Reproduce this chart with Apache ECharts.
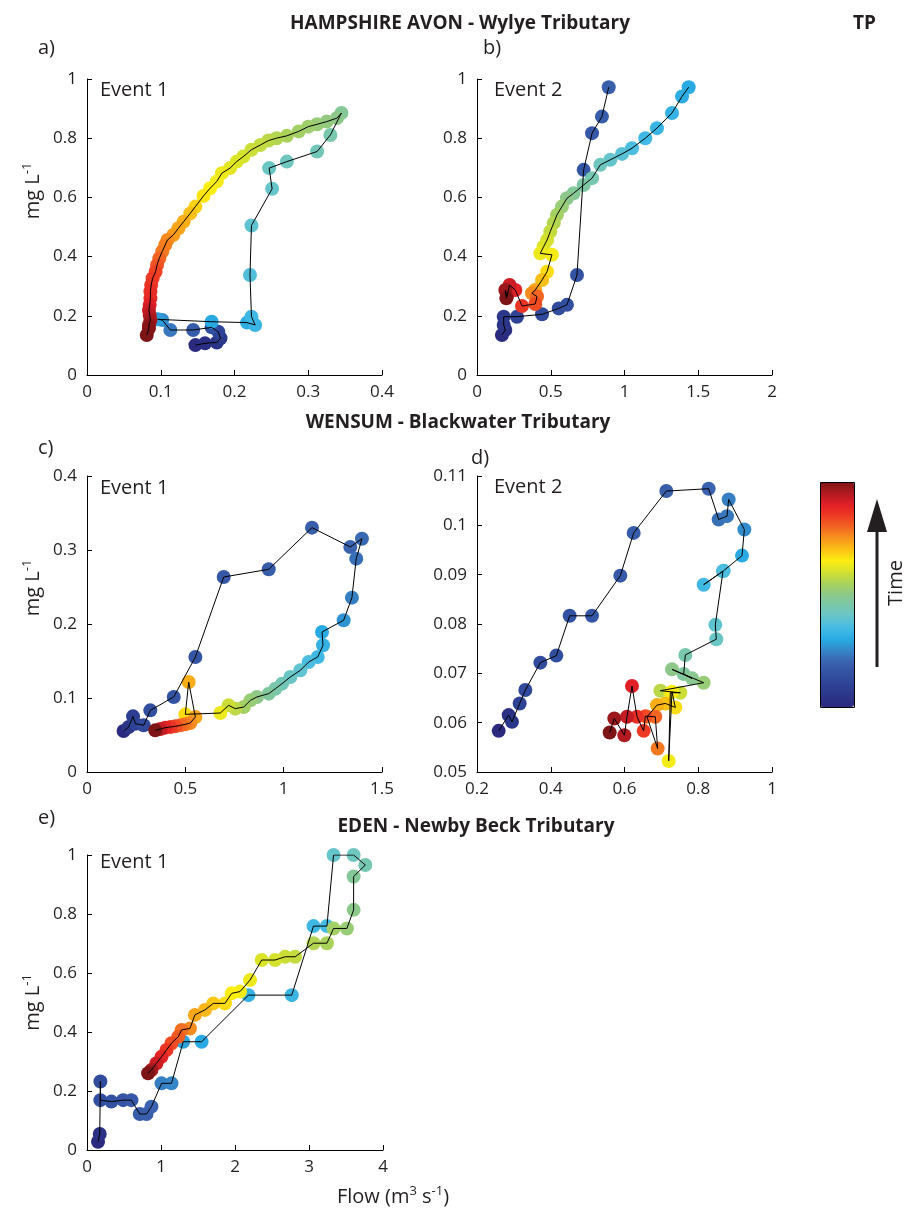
<!DOCTYPE html>
<html><head><meta charset="utf-8">
<script src="https://cdn.jsdelivr.net/npm/echarts@6/dist/echarts.min.js"></script>
<style>html,body{margin:0;padding:0;background:#fff}#c{width:912px;height:1214px}</style>
</head><body><div id="c"></div>
<script>
const aFlow = [0.147,0.160,0.176,0.181,0.178,0.169,0.144,0.113,0.102,0.096,0.169,0.217,0.228,0.223,0.221,0.223,0.251,0.247,0.271,0.312,0.330,0.345,0.339,0.325,0.312,0.300,0.287,0.271,0.257,0.246,0.235,0.223,0.212,0.203,0.194,0.183,0.176,0.167,0.158,0.147,0.140,0.131,0.124,0.117,0.109,0.106,0.102,0.098,0.095,0.093,0.089,0.087,0.086,0.086,0.085,0.084,0.085,0.086,0.084,0.084,0.081];
const aConc = [0.101,0.107,0.110,0.124,0.146,0.161,0.152,0.152,0.186,0.188,0.180,0.177,0.169,0.197,0.338,0.505,0.629,0.699,0.721,0.755,0.811,0.885,0.868,0.856,0.847,0.839,0.823,0.808,0.800,0.792,0.777,0.761,0.738,0.721,0.699,0.682,0.654,0.631,0.605,0.569,0.546,0.518,0.496,0.473,0.456,0.439,0.417,0.394,0.372,0.349,0.327,0.304,0.282,0.259,0.237,0.220,0.203,0.186,0.169,0.158,0.135];
const aTime = [0,0.02,0.04,0.06,0.10,0.14,0.18,0.23,0.26,0.28,0.30,0.31,0.33,0.34,0.37,0.39,0.40,0.41,0.42,0.43,0.45,0.48,0.50,0.51,0.52,0.53,0.54,0.55,0.56,0.57,0.58,0.59,0.60,0.61,0.62,0.63,0.64,0.65,0.66,0.68,0.70,0.72,0.73,0.74,0.76,0.77,0.78,0.80,0.82,0.84,0.85,0.86,0.87,0.88,0.90,0.92,0.94,0.96,0.98,0.99,1.0];

const bFlow = [0.169,0.192,0.181,0.181,0.271,0.441,0.554,0.610,0.678,0.723,0.780,0.847,0.893,null,1.435,1.390,1.322,1.220,1.141,1.051,0.983,0.904,0.836,0.780,0.723,0.655,0.610,0.576,0.542,0.520,0.497,0.475,0.452,0.429,0.508,0.475,0.441,0.395,0.373,0.407,0.395,0.305,0.260,0.221,0.203,0.192,0.199];
const bConc = [0.135,0.152,0.169,0.197,0.197,0.205,0.225,0.237,0.338,0.693,0.817,0.873,0.972,null,0.972,0.941,0.885,0.834,0.800,0.766,0.747,0.727,0.710,0.665,0.642,0.614,0.597,0.569,0.541,0.513,0.485,0.456,0.434,0.411,0.406,0.349,0.321,0.287,0.276,0.265,0.240,0.233,0.287,0.304,0.265,0.287,0.259];
const bTime = [0,0.02,0.04,0.06,0.10,0.12,0.13,0.14,0.15,0.16,0.17,0.18,0.19,null,0.30,0.31,0.32,0.33,0.34,0.36,0.38,0.40,0.42,0.44,0.46,0.48,0.50,0.52,0.54,0.56,0.58,0.60,0.61,0.63,0.64,0.67,0.70,0.73,0.76,0.80,0.83,0.86,0.89,0.92,0.95,0.97,1.0];

const cFlow = [0.186,0.212,0.234,0.246,0.288,0.322,0.441,0.551,0.695,0.924,1.144,1.339,1.398,1.369,1.347,1.305,1.195,1.200,1.173,1.127,1.085,1.034,0.992,0.958,0.924,0.864,0.831,0.797,0.754,0.720,0.678,0.500,0.517,0.551,0.525,0.500,0.475,0.449,0.424,0.398,0.373,0.347];
const cConc = [0.0554,0.0608,0.0752,0.0653,0.0631,0.0833,0.1014,0.1554,0.2635,0.2739,0.3302,0.3041,0.3153,0.2883,0.2356,0.2050,0.1892,0.1712,0.1554,0.1486,0.1374,0.1284,0.1194,0.1126,0.1059,0.1014,0.0968,0.0878,0.0856,0.0901,0.0797,0.0779,0.1216,0.0743,0.0662,0.0644,0.0631,0.0617,0.0608,0.0599,0.0581,0.0563];
const cTime = [0,0.05,0.08,0.10,0.12,0.14,0.15,0.16,0.17,0.18,0.19,0.20,0.21,0.22,0.24,0.27,0.30,0.32,0.34,0.36,0.39,0.41,0.43,0.45,0.47,0.50,0.52,0.54,0.57,0.59,0.63,0.67,0.72,0.73,0.76,0.78,0.80,0.83,0.86,0.89,0.93,1.0];

const dFlow = [0.2588,0.2859,0.2949,0.3157,0.3311,0.3718,0.4151,0.4513,0.5119,0.5887,0.6249,0.7134,0.8282,0.8554,0.8780,0.8825,0.9250,0.9187,0.8689,0.8147,0.8671,0.8463,0.8490,0.7650,0.7605,0.7831,0.7288,0.8147,0.6972,0.7514,0.7243,0.7198,0.7288,0.7378,0.7107,0.6881,0.6610,0.6899,0.6836,0.6565,0.6520,0.6339,0.6203,0.6068,0.5996,0.5724,0.5598];
const dConc = [0.05834,0.06153,0.06017,0.0639,0.06661,0.07217,0.07359,0.08166,0.08166,0.0898,0.09847,0.10695,0.10742,0.10119,0.10186,0.10525,0.09915,0.09386,0.09081,0.08797,0.09068,0.07983,0.07692,0.07373,0.06986,0.06898,0.07081,0.0681,0.06647,0.06607,0.06607,0.05224,0.06627,0.06308,0.0639,0.06356,0.06119,0.05475,0.06119,0.06132,0.05834,0.06119,0.06742,0.06119,0.05746,0.06085,0.058];
const dTime = [0,0.03,0.05,0.10,0.12,0.13,0.14,0.15,0.16,0.17,0.18,0.19,0.20,0.22,0.23,0.24,0.26,0.30,0.32,0.34,0.36,0.39,0.41,0.45,0.47,0.49,0.50,0.52,0.57,0.59,0.62,0.64,0.65,0.67,0.70,0.72,0.76,0.78,0.80,0.83,0.85,0.87,0.90,0.93,0.95,0.97,1.0];

const eFlow = [0.149,0.172,0.181,0.181,0.330,0.488,0.600,0.713,0.804,0.871,1.007,1.142,1.300,1.549,2.181,2.767,3.061,3.242,3.332,3.603,3.761,3.603,3.603,3.512,3.332,3.242,3.061,2.813,2.677,2.542,2.361,2.203,2.068,1.955,1.865,1.707,1.594,1.458,1.391,1.278,1.233,1.142,1.074,1.007,0.939,0.871,0.826];
const eConc = [0.028,0.054,0.232,0.169,0.164,0.169,0.169,0.122,0.122,0.147,0.226,0.226,0.367,0.367,0.525,0.525,0.759,0.759,1.0,1.0,0.966,0.927,0.814,0.751,0.751,0.701,0.701,0.655,0.655,0.644,0.644,0.576,0.537,0.531,0.497,0.497,0.475,0.458,0.412,0.407,0.384,0.362,0.339,0.316,0.294,0.271,0.260];
const eTime = [0,0.03,0.13,0.14,0.15,0.16,0.17,0.18,0.19,0.20,0.24,0.25,0.29,0.30,0.32,0.33,0.34,0.35,0.40,0.42,0.44,0.48,0.50,0.52,0.54,0.55,0.56,0.58,0.59,0.60,0.61,0.63,0.64,0.65,0.67,0.69,0.71,0.73,0.76,0.79,0.81,0.83,0.86,0.89,0.92,0.96,1.0];

// tick labels
const aXTicks = [0,0.1,0.2,0.3,0.4], aYTicks = [0,0.2,0.4,0.6,0.8,1];
const bXTicks = [0,0.5,1,1.5,2],     bYTicks = [0,0.2,0.4,0.6,0.8,1];
const cXTicks = [0,0.5,1,1.5],       cYTicks = [0,0.1,0.2,0.3,0.4];
const dXTicks = [0.2,0.4,0.6,0.8,1], dYTicks = [0.05,0.06,0.07,0.08,0.09,0.1,0.11];
const eXTicks = [0,1,2,3,4],         eYTicks = [0,0.2,0.4,0.6,0.8,1];

// colour map (time)
const cmap = ['#2b2a7f','#2c3689','#2e4395','#3352a1','#3a62ae','#3586c8','#2aaae2','#45bbe4','#66c5cb','#79c7ac','#8dc88a','#a9d25a','#d4e12e','#fdee12','#fbc015','#f7941d','#f26522','#ee3a24','#e01f26','#b01a20','#7d1416'];

// ---------- CHART ----------
const FONT = '"Open Sans", "Liberation Sans", sans-serif';
const TXT = '#231f20';
const panels = [
  {f:aFlow,c:aConc,t:aTime,xt:aXTicks,yt:aYTicks,grid:{left:87,top:79,width:295,height:296},yname:true,shift:true},
  {f:bFlow,c:bConc,t:bTime,xt:bXTicks,yt:bYTicks,grid:{left:477,top:79,width:295,height:296}},
  {f:cFlow,c:cConc,t:cTime,xt:cXTicks,yt:cYTicks,grid:{left:87,top:476,width:295,height:296},yname:true,shift:true},
  {f:dFlow,c:dConc,t:dTime,xt:dXTicks,yt:dYTicks,grid:{left:477,top:476,width:295,height:296}},
  {f:eFlow,c:eConc,t:eTime,xt:eXTicks,yt:eYTicks,grid:{left:87,top:855,width:296,height:295},yname:true,shift:false}
];

const SUP = {
  m:{fontSize:20,fontFamily:FONT,color:TXT,fill:TXT,lineHeight:22,verticalAlign:'bottom'},
  s:{fontSize:13,fontFamily:FONT,color:TXT,fill:TXT,lineHeight:22,verticalAlign:'top'}
};

const grids=[],xAxes=[],yAxes=[],series=[],scatterIdx=[];
function axisBase(ticks){
  return {type:'value',min:ticks[0],max:ticks[ticks.length-1],interval:+(ticks[1]-ticks[0]).toFixed(6),
    axisLine:{show:true,onZero:false,lineStyle:{color:'#000',width:1}},
    axisTick:{show:true,inside:true,length:5,lineStyle:{color:'#000'}},
    splitLine:{show:false},
    axisLabel:{color:TXT,fontSize:17,fontFamily:FONT}};
}
panels.forEach((p,i)=>{
  grids.push(Object.assign({containLabel:false},p.grid));
  const xa=axisBase(p.xt); xa.gridIndex=i; xa.axisLabel.margin=9; xAxes.push(xa);
  const ya=axisBase(p.yt); ya.gridIndex=i; ya.axisLabel.margin=10;
  if(p.yname){
    ya.name='{m|mg L}{s|-1}'; ya.nameLocation='middle'; ya.nameGap=44; ya.nameRotate=90;
    ya.nameTextStyle={color:TXT,fontFamily:FONT,fontSize:20,padding:p.shift?[0,0,0,72]:0,rich:SUP};
  }
  yAxes.push(ya);
  const pts=[]; const segs=[[]];
  for(let k=0;k<p.f.length;k++){
    if(p.f[k]==null){segs.push([]);continue;}
    pts.push([p.f[k],p.c[k],p.t[k]]);
    segs[segs.length-1].push([p.f[k],p.c[k]]);
  }
  scatterIdx.push(series.length);
  series.push({type:'scatter',xAxisIndex:i,yAxisIndex:i,data:pts,symbol:'circle',symbolSize:14,z:2,silent:true,itemStyle:{opacity:1}});
  segs.forEach(s=>series.push({type:'line',xAxisIndex:i,yAxisIndex:i,data:s,showSymbol:false,symbol:'none',z:3,silent:true,lineStyle:{color:'#000',width:1}}));
});

function txt(text,x,y,font,align,extra){
  return Object.assign({type:'text',x:x,y:y,z:10,style:{text:text,font:font,fill:TXT,textAlign:align||'left',textVerticalAlign:'middle',align:align||'left',verticalAlign:'middle'}},extra||{});
}
const titleFont='bold 19px '+FONT, lblFont='20px '+FONT;
const graphic=[
  txt('HAMPSHIRE AVON - Wylye Tributary',460,24,titleFont,'center'),
  txt('TP',853,24,titleFont,'left'),
  txt('WENSUM - Blackwater Tributary',458,423,titleFont,'center'),
  txt('EDEN - Newby Beck Tributary',476,827,titleFont,'center'),
  txt('a)',38,48,lblFont),txt('b)',483,48,lblFont),
  txt('c)',38,448,lblFont),txt('d)',471,458,lblFont),
  txt('e)',38,818,lblFont),
  txt('Event 1',100,90,lblFont),txt('Event 2',494,90,lblFont),
  txt('Event 1',100,488,lblFont),txt('Event 2',494,487,lblFont),
  txt('Event 1',100,862,lblFont),
  {type:'text',x:393,y:1196,z:10,style:{text:'{m|Flow (m}{s|3}{m| s}{s|-1}{m|)}',textAlign:'center',textVerticalAlign:'middle',align:'center',verticalAlign:'middle',rich:SUP}},
  {type:'text',x:896,y:583,rotation:Math.PI/2,z:10,style:{text:'Time',font:lblFont,fill:TXT,textAlign:'center',textVerticalAlign:'middle',align:'center',verticalAlign:'middle'}},
  {type:'rect',z:10,shape:{x:820.5,y:482.5,width:34,height:225},style:{fill:null,stroke:'#000',lineWidth:1}},
  {type:'rect',z:10,shape:{x:875.5,y:530,width:3,height:137},style:{fill:'#231f20'}},
  {type:'polygon',z:10,shape:{points:[[877,499],[867,532],[887,532]]},style:{fill:'#231f20'}}
];

const chart=echarts.init(document.getElementById('c'),null,{renderer:'canvas'});
chart.setOption({
  animation:false,
  backgroundColor:'#fff',
  grid:grids,xAxis:xAxes,yAxis:yAxes,series:series,
  visualMap:{type:'continuous',min:0,max:1,dimension:2,seriesIndex:scatterIdx,calculable:false,
    left:820,top:482,itemWidth:34,itemHeight:225,padding:0,inRange:{color:cmap},hoverLink:false},
  graphic:graphic
});
</script></body></html>
